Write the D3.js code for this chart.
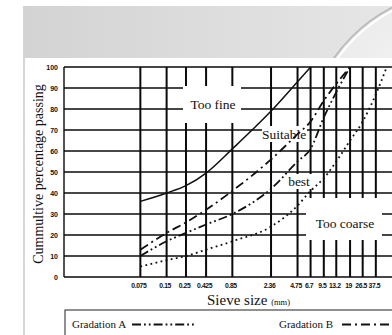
<!DOCTYPE html>
<html>
<head>
<meta charset="utf-8">
<script src="https://cdn.jsdelivr.net/npm/d3@7"></script>
<style>
  html, body { margin: 0; padding: 0; background: #fff; }
  svg { display: block; }
</style>
</head>
<body>
<svg id="chart" width="392" height="335"></svg>
<script>
// Sieve sizes (mm) and their tick labels
const sieveSizes  = [0.075, 0.15, 0.25, 0.425, 0.85, 2.36, 4.75, 6.7, 9.5, 13.2, 19, 26.5, 37.5];
const sieveLabels = ["0.075", "0.15", "0.25", "0.425", "0.85", "2.36", "4.75", "6.7", "9.5", "13.2", "19", "26.5", "37.5"];
const percentTicks = [0, 10, 20, 30, 40, 50, 60, 70, 80, 90, 100];

// Grading curves: sieve size (mm) and cumulative percentage passing
const upperSizes = [0.075, 0.15, 0.25, 0.425, 0.85, 2.36, 4.75, 6.7];
const upperPass  = [36, 40, 43.5, 49.5, 61, 79, 93, 100];

const gradBSizes = [0.075, 0.15, 0.25, 0.425, 0.85, 2.36, 4.75, 6.7, 9.5, 13.2, 19];
const gradBPass  = [13, 21, 26, 32, 41, 56, 68, 74, 84, 92, 100];

const gradASizes = [0.075, 0.15, 0.25, 0.425, 0.85, 2.36, 4.75, 6.7, 9.5, 13.2, 19];
const gradAPass  = [10, 17, 21, 25, 30, 42, 55, 61, 76, 88, 100];

const lowerSizes = [0.075, 0.15, 0.25, 0.425, 0.85, 2.36, 4.75, 6.7, 9.5, 13.2, 19, 26.5, 37.5, 50];
const lowerPass  = [5, 8, 10, 13, 17, 24, 34, 41, 47, 55, 65, 74, 87, 100];

const svg = d3.select("#chart");

// ---- slide backdrop ----
const defs = svg.append("defs");
const bandGrad = defs.append("linearGradient").attr("id", "band").attr("x1", 0).attr("x2", 1);
bandGrad.append("stop").attr("offset", 0).attr("stop-color", "#d3d3d3");
bandGrad.append("stop").attr("offset", 1).attr("stop-color", "#e6e6e6");
const discGrad = defs.append("radialGradient").attr("id", "disc").attr("cx", 0.3).attr("cy", 0.25).attr("r", 0.8);
discGrad.append("stop").attr("offset", 0).attr("stop-color", "#f2f2f2");
discGrad.append("stop").attr("offset", 1).attr("stop-color", "#d8d8d8");
defs.append("clipPath").attr("id", "bandClip")
  .append("rect").attr("x", 23).attr("y", 6).attr("width", 369).attr("height", 52);

svg.append("rect").attr("x", 23).attr("y", 6).attr("width", 369).attr("height", 52).attr("fill", "url(#band)");
const discG = svg.append("g").attr("clip-path", "url(#bandClip)");
discG.append("circle").attr("cx", 465).attr("cy", 150).attr("r", 160)
  .attr("fill", "url(#disc)").attr("stroke", "#bcbcbc").attr("stroke-width", 2);
discG.append("circle").attr("cx", 465).attr("cy", 150).attr("r", 157)
  .attr("fill", "none").attr("stroke", "#ffffff").attr("stroke-width", 2);
svg.append("rect").attr("x", 23).attr("y", 58).attr("width", 2).attr("height", 277).attr("fill", "#d6d6d6");

// ---- scales ----
const x = d3.scaleLog().domain([0.01, 100]).range([64, 413]);
const y = d3.scaleLinear().domain([0, 100]).range([277, 67]);

const plot = svg.append("g");
defs.append("clipPath").attr("id", "plotClip")
  .append("rect").attr("x", 60).attr("y", 60).attr("width", 340).attr("height", 222);

// ---- grid ----
const grid = plot.append("g").attr("stroke", "#0a0a0a");
grid.selectAll("line.h").data(percentTicks).join("line")
  .attr("x1", x(0.01)).attr("x2", 400)
  .attr("y1", d => y(d)).attr("y2", d => y(d))
  .attr("stroke-width", 1.5);
grid.append("line").attr("x1", x(0.01)).attr("x2", x(0.01)).attr("y1", y(0)).attr("y2", y(100)).attr("stroke-width", 1.4);
grid.selectAll("line.v").data(sieveSizes).join("line")
  .attr("x1", d => x(d)).attr("x2", d => x(d))
  .attr("y1", y(0)).attr("y2", y(100))
  .attr("stroke-width", 2);

// white patches that open the grid around the zone labels
const patches = [
  [183, 86, 58, 37],
  [262, 126, 45, 16],
  [286, 174, 26, 15],
  [306, 198, 76, 42]
];
plot.selectAll("rect.patch").data(patches).join("rect")
  .attr("x", d => d[0]).attr("y", d => d[1]).attr("width", d => d[2]).attr("height", d => d[3])
  .attr("fill", "#fff");

// ---- curves ----
const line = d3.line().x(d => x(d[0])).y(d => y(d[1])).curve(d3.curveMonotoneX);
const curves = [
  { sizes: upperSizes, pass: upperPass, dash: null, w: 1.5 },
  { sizes: gradBSizes, pass: gradBPass, dash: "9,4,2,4", w: 1.8 },
  { sizes: gradASizes, pass: gradAPass, dash: "9,3,1.8,3,1.8,3", w: 1.8 },
  { sizes: lowerSizes, pass: lowerPass, dash: "1.8,3.4", w: 1.8 }
];
const cg = plot.append("g").attr("clip-path", "url(#plotClip)");
curves.forEach(c => {
  cg.append("path")
    .datum(c.sizes.map((s, i) => [s, c.pass[i]]))
    .attr("d", line)
    .attr("fill", "none")
    .attr("stroke", "#111")
    .attr("stroke-width", c.w)
    .attr("stroke-dasharray", c.dash);
});

// ---- zone labels ----
const serif = "'Liberation Serif', 'Times New Roman', serif";
const zones = [
  ["Too fine", 213, 109],
  ["Suitable", 284, 139],
  ["best", 299, 186],
  ["Too coarse", 345, 228]
];
plot.selectAll("text.zone").data(zones).join("text")
  .attr("x", d => d[1]).attr("y", d => d[2])
  .attr("text-anchor", "middle")
  .attr("font-family", serif).attr("font-size", 13.5).attr("fill", "#111")
  .text(d => d[0]);

// ---- axes labels ----
const yAxis = d3.axisLeft(y).tickValues(percentTicks).tickSize(0).tickPadding(6);
svg.append("g").attr("transform", `translate(${x(0.01)},0)`).call(yAxis)
  .call(g => g.select(".domain").remove())
  .selectAll("text")
  .attr("font-family", "'Liberation Sans', Arial, sans-serif")
  .attr("font-weight", "bold").attr("font-size", 7).attr("fill", "#111");

const xAxis = d3.axisBottom(x).tickValues(sieveSizes).tickSize(0).tickPadding(6)
  .tickFormat((d, i) => sieveLabels[i]);
svg.append("g").attr("transform", `translate(-2,${y(0)})`).call(xAxis)
  .call(g => g.select(".domain").remove())
  .selectAll("text")
  .attr("font-family", "'Liberation Sans', Arial, sans-serif")
  .attr("font-weight", "bold").attr("font-size", 6.8).attr("letter-spacing", -0.4).attr("fill", "#111");

svg.append("text")
  .attr("transform", "translate(43,174) rotate(-90)")
  .attr("text-anchor", "middle")
  .attr("font-family", serif).attr("font-size", 14).attr("fill", "#111")
  .text("Cummultive percentage passing");

const xt = svg.append("text").attr("x", 207).attr("y", 305)
  .attr("font-family", serif).attr("fill", "#111");
xt.append("tspan").attr("font-size", 15).text("Sieve size ");
xt.append("tspan").attr("font-size", 8.5).text("(mm)");

// ---- legend ----
svg.append("rect").attr("x", 65).attr("y", 310).attr("width", 340).attr("height", 40)
  .attr("fill", "#fff").attr("stroke", "#222").attr("stroke-width", 1);
const legend = [
  { label: "Gradation A", tx: 72, lx: 132, dash: "9,3,1.8,3,1.8,3" },
  { label: "Gradation B", tx: 279, lx: 342, dash: "9,4,2,4" }
];
legend.forEach(l => {
  svg.append("text").attr("x", l.tx).attr("y", 328)
    .attr("font-family", serif).attr("font-size", 11).attr("fill", "#111").text(l.label);
  svg.append("line").attr("x1", l.lx).attr("x2", l.lx + 62).attr("y1", 324.5).attr("y2", 324.5)
    .attr("stroke", "#111").attr("stroke-width", 1.8).attr("stroke-dasharray", l.dash);
});
</script>
</body>
</html>
